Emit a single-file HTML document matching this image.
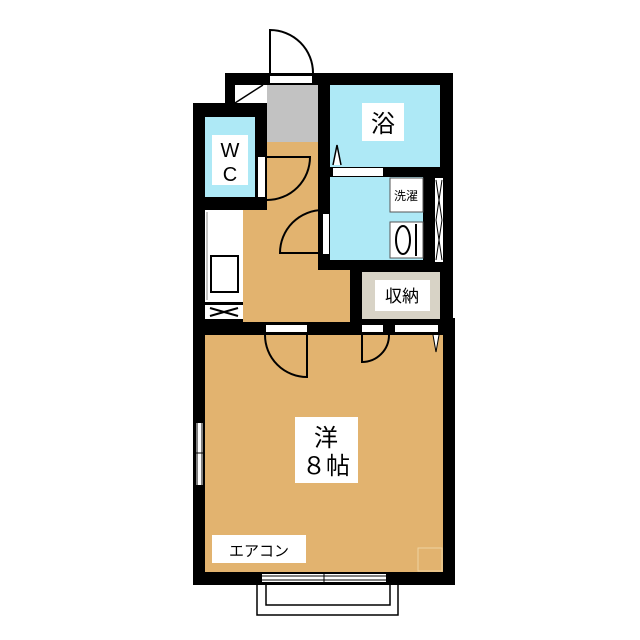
<!DOCTYPE html>
<html><head><meta charset="utf-8"><style>html,body{margin:0;padding:0;background:#fff}svg{display:block}text{font-family:"Liberation Sans","Noto Sans CJK JP",sans-serif}</style></head><body>
<svg width="640" height="640" viewBox="0 0 640 640" xmlns="http://www.w3.org/2000/svg">
<rect width="640" height="640" fill="#fff"/>
<!-- entrance door -->
<path d="M270,73 V30 A43,43 0 0 1 313,73" fill="none" stroke="#000" stroke-width="2"/>
<!-- walls -->
<rect x="225" y="73" width="228" height="197" fill="#000"/>
<rect x="193" y="103" width="74" height="232" fill="#000"/>
<rect x="193" y="318" width="262" height="267" fill="#000"/>
<rect x="318" y="260" width="135" height="75" fill="#000"/>
<!-- entry door strip -->
<rect x="270" y="76" width="42" height="7" fill="#fff"/>
<!-- shoe area -->
<rect x="235" y="85" width="32" height="18" fill="#fff"/>
<line x1="235" y1="103" x2="263" y2="85" stroke="#000" stroke-width="1.5"/>
<!-- gray entry -->
<rect x="267" y="85" width="51" height="57" fill="#c2c2c2"/>
<!-- hall -->
<polygon points="267,142 318,142 318,270 350,270 350,322 243,322 243,210 267,210" fill="#e2b36f"/>
<!-- WC -->
<rect x="205" y="117" width="50" height="80" fill="#aee9f6"/>
<rect x="212" y="135" width="36" height="50" fill="#fff"/>
<text x="230" y="157" font-size="20" text-anchor="middle">W</text>
<text x="230" y="181" font-size="20" text-anchor="middle">C</text>
<rect x="258" y="157" width="7" height="40" fill="#fff"/>
<path d="M267,157 H310 A43,43 0 0 1 267,200" fill="none" stroke="#000" stroke-width="2"/>
<!-- kitchen -->
<rect x="205" y="210" width="38" height="92" fill="#fff"/>
<line x1="207" y1="212" x2="207" y2="300" stroke="#888" stroke-width="1"/>
<rect x="211" y="256" width="27" height="36" fill="#fff" stroke="#000" stroke-width="2"/>
<rect x="205" y="305" width="38" height="14" fill="#fff"/>
<path d="M210,308 L238,316 M210,316 L238,308" stroke="#000" stroke-width="2"/>
<!-- bath -->
<rect x="330" y="85" width="110" height="82" fill="#aee9f6"/>
<rect x="362" y="103" width="42" height="38" fill="#fff"/>
<text x="383" y="132" font-size="24" text-anchor="middle">浴</text>
<path d="M333,165 L337,145 L341,165" fill="#fff" stroke="#000" stroke-width="1.5"/>
<rect x="333" y="168" width="50" height="8" fill="#fff"/>
<!-- wash -->
<rect x="330" y="177" width="93" height="83" fill="#aee9f6"/>
<rect x="390" y="178" width="33" height="34" fill="#fff" stroke="#555" stroke-width="1"/>
<text x="406" y="200" font-size="12" text-anchor="middle">洗濯</text>
<rect x="390" y="222" width="33" height="36" fill="#fff" stroke="#555" stroke-width="1"/>
<ellipse cx="403" cy="240" rx="7" ry="14" fill="none" stroke="#000" stroke-width="2"/>
<line x1="416" y1="224" x2="416" y2="256" stroke="#000" stroke-width="2"/>
<rect x="435" y="178" width="8" height="84" fill="#fff"/>
<path d="M436,180 L442,220 L436,260 M442,180 L436,220 L442,260" fill="none" stroke="#000" stroke-width="1"/>
<rect x="323" y="214" width="6" height="40" fill="#fff"/>
<path d="M323,253 H280 A43,43 0 0 1 323,210" fill="none" stroke="#000" stroke-width="2"/>
<!-- storage -->
<rect x="362" y="272" width="78" height="47" fill="#d8d3c6"/>
<rect x="375" y="280" width="55" height="31" fill="#fff"/>
<text x="402" y="302" font-size="17" text-anchor="middle">収納</text>
<!-- main room -->
<rect x="205" y="335" width="238" height="237" fill="#e2b36f"/>
<rect x="266" y="325" width="41" height="7" fill="#fff"/>
<rect x="362" y="325" width="21" height="7" fill="#fff"/>
<rect x="395" y="325" width="43" height="7" fill="#fff"/>
<path d="M307,335 V377 A42,42 0 0 1 265,335" fill="none" stroke="#000" stroke-width="2"/>
<path d="M362,335 V362 A27,27 0 0 0 389,335" fill="none" stroke="#000" stroke-width="2"/>
<path d="M433,335 L436,352 L439,335" fill="#fff" stroke="#000" stroke-width="1"/>
<rect x="295" y="417" width="63" height="66" fill="#fff"/>
<text x="326" y="446" font-size="24" text-anchor="middle">洋</text>
<text x="326" y="474" font-size="24" text-anchor="middle">８帖</text>
<rect x="212" y="535" width="94" height="28" fill="#fff"/>
<text x="259" y="556" font-size="15" text-anchor="middle">エアコン</text>
<rect x="418" y="548" width="24" height="23" fill="none" stroke="#efd3a0" stroke-width="1"/>
<!-- left window -->
<rect x="196" y="423" width="7" height="62" fill="#fff"/>
<path d="M197,423 V485 M202,423 V485 M193,453 H205" stroke="#000" stroke-width="1"/>
<!-- balcony -->
<rect x="262" y="574" width="124" height="8" fill="#fff"/>
<path d="M262,576 H386 M262,580 H386 M324,572 V584" stroke="#000" stroke-width="1"/>
<path d="M257,585 V615 H398 V585" fill="none" stroke="#000" stroke-width="1.5"/>
<path d="M266,585 V605 H390 V585" fill="none" stroke="#000" stroke-width="1.5"/>
</svg>
</body></html>
